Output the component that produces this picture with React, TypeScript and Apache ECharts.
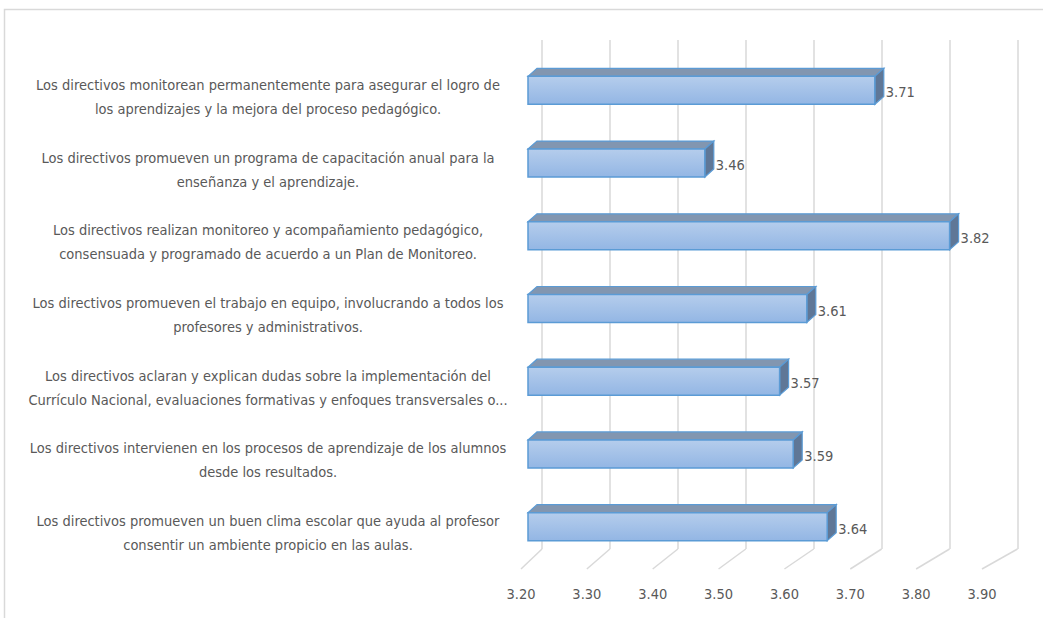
import React, { useEffect, useRef } from "react";
import * as echarts from "echarts";

const categories: string[] = [
  "Los directivos monitorean permanentemente para asegurar el logro de\nlos aprendizajes y la mejora del proceso pedagógico.",
  "Los directivos promueven un programa de capacitación anual para la\nenseñanza y el aprendizaje.",
  "Los directivos realizan monitoreo y acompañamiento pedagógico,\nconsensuada y programado de acuerdo a un Plan de Monitoreo.",
  "Los directivos promueven el trabajo en equipo, involucrando a todos los\nprofesores y administrativos.",
  "Los directivos aclaran y explican dudas sobre la implementación del\nCurrículo Nacional, evaluaciones formativas y enfoques transversales o...",
  "Los directivos intervienen en los procesos de aprendizaje de los alumnos\ndesde los resultados.",
  "Los directivos promueven un buen clima escolar que ayuda al profesor\nconsentir un ambiente propicio en las aulas.",
];
const values: number[] = [3.71, 3.46, 3.82, 3.61, 3.57, 3.59, 3.64];
const axisMin = 3.2;
const axisMax = 3.9;
const axisStep = 0.1;

const FONT = "'DejaVu Sans Condensed', 'DejaVu Sans', sans-serif";
const TEXT = "#595959";
const GRIDC = "#d9d9d9";

export default function App() {
  const ref = useRef<HTMLDivElement>(null);
  useEffect(() => {
    if (!ref.current) return;
    const chart = echarts.init(ref.current, undefined, { renderer: "svg" });
    const DX = 9;
    const DY = 8;
    const option: any = {
      animation: false,
      backgroundColor: "#ffffff",
      grid: [
        { left: 528, right: 39, top: 54, height: 509 },
        { left: 542, right: 25.5, top: 40, height: 509 },
        { left: 521, right: 61, top: 61, height: 508 },
      ],
      xAxis: [
        { gridIndex: 0, type: "value", min: axisMin, max: axisMax, interval: axisStep, show: false },
        {
          gridIndex: 1, type: "value", min: axisMin, max: axisMax, interval: axisStep,
          axisLine: { show: false }, axisTick: { show: false }, axisLabel: { show: false },
          splitLine: { show: true, lineStyle: { color: GRIDC, width: 1.5 } },
        },
        {
          gridIndex: 2, type: "value", min: axisMin, max: axisMax, interval: axisStep,
          axisLine: { show: false }, axisTick: { show: false }, splitLine: { show: false },
          axisLabel: {
            show: true, margin: 17, color: TEXT, fontSize: 14.5, fontFamily: FONT,
            formatter: (v: number) => v.toFixed(2),
          },
        },
      ],
      yAxis: [
        { gridIndex: 0, type: "category", data: categories, inverse: true, show: false },
        { gridIndex: 1, type: "category", data: categories, inverse: true, show: false },
        {
          gridIndex: 2, type: "category", data: categories, inverse: true,
          axisLine: { show: false }, axisTick: { show: false }, splitLine: { show: false },
          axisLabel: {
            show: true, margin: 253, align: "center", color: TEXT, fontSize: 14.5,
            fontFamily: FONT, lineHeight: 24,
          },
        },
      ],
      series: [
        {
          type: "custom",
          xAxisIndex: 0,
          yAxisIndex: 0,
          data: values.map((v, i) => [v, i]),
          renderItem: (params: any, api: any) => {
            const v = api.value(0);
            const idx = api.value(1);
            const p0 = api.coord([axisMin, idx]);
            const p1 = api.coord([v, idx]);
            const h = 28;
            const x0 = p0[0];
            const x1 = p1[0];
            const y0 = p0[1] - h / 2;
            const y1 = p0[1] + h / 2;
            return {
              type: "group",
              children: [
                {
                  type: "polygon",
                  shape: { points: [[x0, y0], [x0 + DX, y0 - DY], [x1 + DX, y0 - DY], [x1, y0]] },
                  style: { fill: "#8296b0", stroke: "#5b9bd5", lineWidth: 1.2 },
                },
                {
                  type: "polygon",
                  shape: { points: [[x1, y0], [x1 + DX, y0 - DY], [x1 + DX, y1 - DY], [x1, y1]] },
                  style: { fill: "#5f7797", stroke: "#5b9bd5", lineWidth: 1.2 },
                },
                {
                  type: "rect",
                  shape: { x: x0, y: y0, width: x1 - x0, height: h },
                  style: {
                    fill: new echarts.graphic.LinearGradient(0, 0, 0, 1, [
                      { offset: 0, color: "#b5cdec" },
                      { offset: 1, color: "#93b6e4" },
                    ]),
                    stroke: "#5b9bd5",
                    lineWidth: 1.5,
                  },
                },
                {
                  type: "text",
                  style: {
                    x: x1 + DX + 2,
                    y: p0[1] + 2,
                    text: v.toFixed(2),
                    fill: TEXT,
                    fontSize: 14.5,
                    fontFamily: FONT,
                    align: "left",
                    verticalAlign: "middle",
                  },
                },
              ],
            };
          },
        },
      ],
    };
    chart.setOption(option);

    const ticks: number[] = [];
    for (let k = 0; k <= Math.round((axisMax - axisMin) / axisStep); k++) ticks.push(axisMin + k * axisStep);
    const backBottom = 40 + 509;
    const frontBottom = 61 + 508;
    const lines = ticks.map((t) => {
      const xb = chart.convertToPixel({ xAxisIndex: 1 }, t) as number;
      const xf = chart.convertToPixel({ xAxisIndex: 2 }, t) as number;
      return {
        type: "line",
        shape: { x1: xb, y1: backBottom, x2: xf, y2: frontBottom },
        style: { stroke: GRIDC, lineWidth: 1.5 },
        z: 0,
      };
    });
    chart.setOption({
      graphic: [
        {
          type: "rect",
          shape: { x: 4.5, y: 9.5, width: 1200, height: 800 },
          style: { fill: "none", stroke: GRIDC, lineWidth: 1.5 },
          z: -1,
        },
        ...lines,
      ],
    });
    return () => chart.dispose();
  }, []);
  return (
    <div
      ref={ref}
      style={{ position: "fixed", left: 0, top: 0, width: 1043, height: 618 }}
    />
  );
}
